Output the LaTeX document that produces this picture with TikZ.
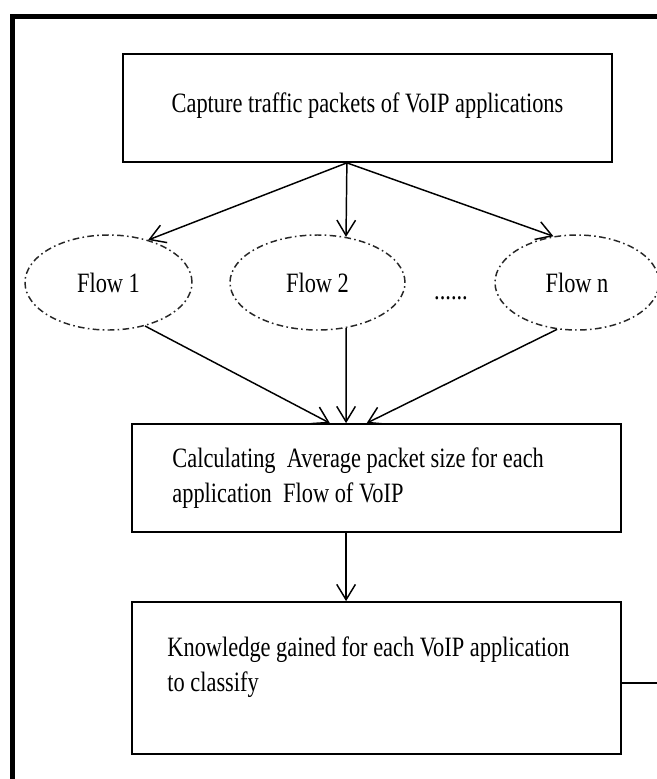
\documentclass[tikz,border=0pt]{standalone}
\usepackage{fontspec}
\setmainfont[FakeStretch=0.8]{Liberation Serif}
\usetikzlibrary{arrows.meta,calc,shapes.geometric}
\newcommand{\diagfont}{\fontsize{21}{26.25}\selectfont}
\begin{document}
\begin{tikzpicture}[x=0.75pt,y=-0.75pt,
  stepbox/.style={draw, rectangle, line width=1.3pt, inner sep=0pt, minimum width=366.75pt},
  flow/.style={draw=black!85, ellipse, inner sep=0pt, line width=1.1pt,
    dash pattern=on 5pt off 2.5pt on 1.2pt off 2.5pt, minimum height=71.25pt, font=\diagfont},
  txt/.style={font=\diagfont, inner sep=0pt, align=left},
  link/.style={line width=1.1pt, -{Straight Barb[length=11.5pt,width=14pt]}},
  frameline/.style={line width=3.75pt, line join=miter}
]
% page area, white background and clipping
\useasboundingbox (0,0) rectangle (657,779);
\fill[white] (0,0) rectangle (657,779);
\clip (0,0) rectangle (657,779);

% outer frame (top and left sides)
\draw[frameline] (12,800) -- (12,16) -- (680,16);

% process boxes
\node[stepbox, minimum height=81pt] (b1) at (367.5,108) {};
\node[stepbox, minimum height=81pt] (b2) at (376.5,478) {};
\node[stepbox, minimum height=114pt] (b3) at (376.5,678) {};

% box texts
\node[txt, anchor=base] (t1) at ($(b1.center)+(0,4)$) {Capture traffic packets of VoIP applications};
\node[txt, anchor=west] (t2) at ($(b2.west)+(41,0)$) {Calculating\ \ Average packet size for each\\application\ \ Flow of VoIP};
\node[txt, anchor=west] (t3) at ($(b3.west)+(36,-10.5)$) {Knowledge gained for each VoIP application\\to classify};

% flows
\node[flow, minimum width=125.25pt] (f1) at (108.5,282.5) {Flow 1};
\node[flow, minimum width=131.25pt] (f2) at (317.5,282.5) {Flow 2};
\node[flow, minimum width=123pt] (fn) at (577,282.5) {Flow n};
\node[txt, anchor=base] (dots) at (451,299) {......};

% capture -> flows
\draw[link] ($(b1.south west)!0.458!(b1.south east)$) -- (f1.47);
\draw[link] ($(b1.south west)!0.458!(b1.south east)$) -- (f2.58);
\draw[link] ($(b1.south west)!0.458!(b1.south east)$) -- (fn.117);

% flows -> average packet size
\draw[link] (f1.-50) -- ($(b2.north west)!0.405!(b2.north east)$);
\draw[link] (f2.-58) -- ($(b2.north west)!0.438!(b2.north east)$);
\draw[link] (fn.-113) -- ($(b2.north west)!0.48!(b2.north east)$);

% average packet size -> knowledge
\draw[link] ($(b2.south west)!0.438!(b2.south east)$) -- ($(b3.north west)!0.438!(b3.north east)$);

% outgoing line on the right
\coordinate (exit) at (670,683);
\draw[line width=1.3pt] (b3.east |- exit) -- (exit);
\end{tikzpicture}
\end{document}
